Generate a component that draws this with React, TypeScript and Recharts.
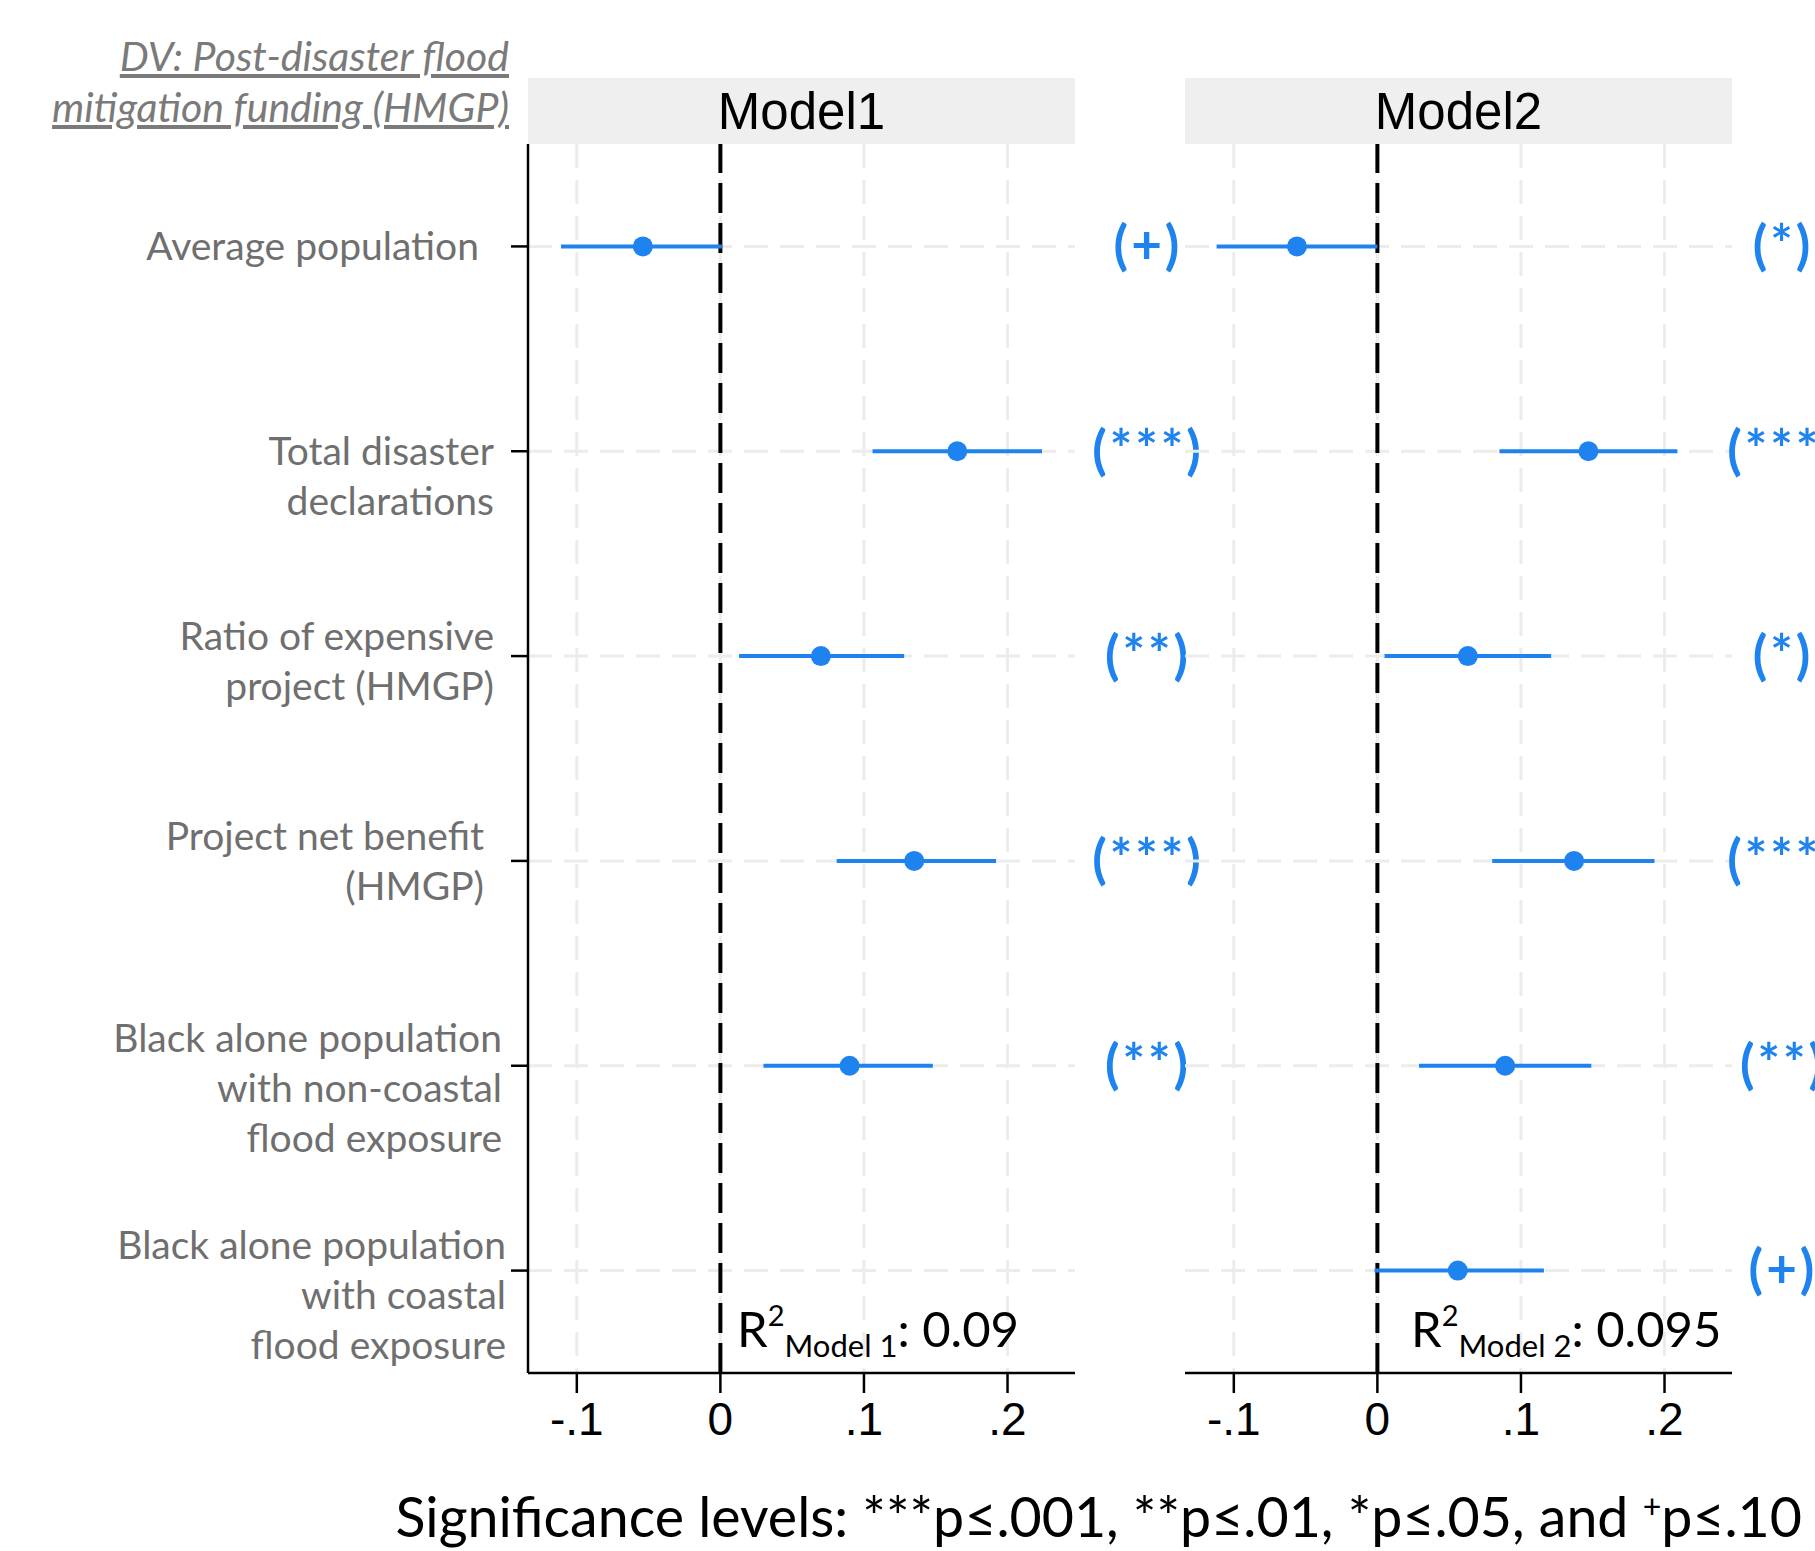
import React from 'react';
import { ScatterChart, Scatter, XAxis, YAxis, CartesianGrid, ReferenceLine, ErrorBar } from 'recharts';

// rows, top to bottom
const categories: string[][] = [
  ['Average population'],
  ['Total disaster', 'declarations'],
  ['Ratio of expensive', 'project (HMGP)'],
  ['Project net benefit', '(HMGP)'],
  ['Black alone population', 'with non-coastal', 'flood exposure'],
  ['Black alone population', 'with coastal', 'flood exposure'],
];
const rowIds = [1, 2, 3, 4, 5, 6];

const xTicks = [-0.1, 0, 0.1, 0.2];
const xTickLabels = ['-.1', '0', '.1', '.2'];

const panelNames = ['Model1', 'Model2'];
const r2Labels = ['Model 1', 'Model 2'];
const r2Values = ['0.09', '0.095'];

const model1Est = [-0.054, 0.165, 0.07, 0.135, 0.09, null];
const model1Lo = [-0.111, 0.106, 0.013, 0.081, 0.03, null];
const model1Hi = [0.001, 0.224, 0.128, 0.192, 0.148, null];
const model1Sig = ['(+)', '(***)', '(**)', '(***)', '(**)', ''];

const model2Est = [-0.056, 0.147, 0.063, 0.137, 0.089, 0.056];
const model2Lo = [-0.112, 0.085, 0.005, 0.08, 0.029, -0.002];
const model2Hi = [0.0, 0.209, 0.121, 0.193, 0.149, 0.116];
const model2Sig = ['(*)', '(***)', '(*)', '(***)', '(**)', '(+)'];

const BLUE = '#1e83ee';
const GRID = '#ececec';
const LABEL_GRAY = '#6f6f6f';
const FONT = 'Lato, "Open Sans", sans-serif';

// label layout tweaks per row: first line offset (in lines) and horizontal nudge (px)
const labelLift = [0, 0, -0.4, -0.5, -0.55, -0.5];
const labelNudge = [-15, 0, 0, -10, 8, 12];
const LINE_H = 50;
const AXIS_W = 10;
const TICK_SIZE = 17;
const TICK_MARGIN = 17;
const PLOT_W = 547;

const X_DOMAIN: [number, number] = [-0.134, 0.247];

const makeRowTick = (sig: string[], showLabels: boolean, sigOffset: number) => (props: any) => {
  const { x, y, payload } = props;
  const i = rowIds.indexOf(payload.value);
  const lines = showLabels ? categories[i] || [] : [];
  const lx = x + labelNudge[i];
  const sx = x + TICK_SIZE + TICK_MARGIN + PLOT_W + sigOffset;
  return (
    <g>
      <text x={lx} y={y} textAnchor="end" fill={LABEL_GRAY} fontSize={39} fontFamily={FONT}>
        {lines.map((l, k) => (
          <tspan key={k} x={lx} y={y + (labelLift[i] + k) * LINE_H} dy="0.35em">
            {l}
          </tspan>
        ))}
      </text>
      <text
        x={sx}
        y={y}
        dy="0.33em"
        textAnchor="middle"
        fill={BLUE}
        fontSize={53}
        fontWeight={700}
        fontFamily={FONT}
        letterSpacing={3}
      >
        {sig[i]}
      </text>
    </g>
  );
};

const XTick = (props: any) => {
  const { x, y, payload } = props;
  const i = xTicks.findIndex((t) => Math.abs(t - payload.value) < 1e-9);
  return (
    <text x={x} y={y} dy="0.75em" textAnchor="middle" fill="#000" fontSize={46} fontFamily='"Liberation Sans", Arial, sans-serif'>
      {xTickLabels[i]}
    </text>
  );
};

const Dot = (props: any) => <circle cx={props.cx} cy={props.cy} r={10} fill={BLUE} />;

interface PanelProps {
  index: number;
  est: (number | null)[];
  lo: (number | null)[];
  hi: (number | null)[];
  sig: string[];
  left: number;
  width: number;
  marginLeft: number;
  showYAxis: boolean;
  sigOffset: number;
  r2Left: number;
}

function Panel({ index, est, lo, hi, sig, left, width, marginLeft, showYAxis, sigOffset, r2Left }: PanelProps) {
  const data = rowIds
    .map((row, i) => {
      const e = est[i];
      if (e == null) return null;
      return { row, est: e, err: [e - (lo[i] as number), (hi[i] as number) - e] };
    })
    .filter(Boolean) as { row: number; est: number; err: number[] }[];

  const plotLeft = left + marginLeft + AXIS_W;
  const margin = { top: 144, left: marginLeft, right: width - marginLeft - AXIS_W - PLOT_W, bottom: 118 };

  return (
    <>
      <div
        style={{
          position: 'absolute',
          left: plotLeft,
          top: 78,
          width: PLOT_W,
          height: 66,
          background: '#efefef',
          display: 'flex',
          alignItems: 'center',
          justifyContent: 'center',
          fontFamily: '"Liberation Sans", Arial, sans-serif',
          fontSize: 51,
          color: '#000',
        }}
      >
        {panelNames[index]}
      </div>
      <div style={{ position: 'absolute', left, top: 0 }}>
        <ScatterChart width={width} height={1551} margin={margin}>
          <CartesianGrid yAxisId="rows" stroke={GRID} strokeWidth={3} strokeDasharray="24 12" syncWithTicks />
          <XAxis
            type="number"
            dataKey="est"
            domain={X_DOMAIN}
            ticks={xTicks}
            allowDataOverflow
            height={60}
            tick={<XTick />}
            tickSize={20}
            tickMargin={7}
            axisLine={{ stroke: '#000', strokeWidth: 2.5 }}
            tickLine={{ stroke: '#000', strokeWidth: 2.5 }}
          />
          <YAxis
            yAxisId="rows"
            type="number"
            dataKey="row"
            domain={[0.5, 6.5]}
            ticks={rowIds}
            reversed
            width={AXIS_W}
            tick={makeRowTick(sig, showYAxis, sigOffset)}
            tickSize={TICK_SIZE}
            tickMargin={TICK_MARGIN}
            axisLine={showYAxis ? { stroke: '#000', strokeWidth: 2.5 } : false}
            tickLine={showYAxis ? { stroke: '#000', strokeWidth: 2.5 } : false}
          />
          <ReferenceLine yAxisId="rows" x={0} stroke="#000" strokeWidth={4} strokeDasharray="30 10" />
          <Scatter yAxisId="rows" data={data} shape={<Dot />} isAnimationActive={false}>
            <ErrorBar dataKey="err" direction="x" width={0} stroke={BLUE} strokeWidth={4} isAnimationActive={false} />
          </Scatter>
        </ScatterChart>
      </div>
      <div
        style={{
          position: 'absolute',
          left: r2Left,
          top: 1300,
          fontFamily: FONT,
          fontSize: 49,
          lineHeight: 1,
          color: '#000',
          whiteSpace: 'nowrap',
        }}
      >
        R<sup style={{ fontSize: 29, lineHeight: 1, verticalAlign: 21 }}>2</sup>
        <sub style={{ fontSize: 31, lineHeight: 1, verticalAlign: -10 }}>{r2Labels[index]}</sub>: {r2Values[index]}
      </div>
    </>
  );
}

export default function App() {
  return (
    <div
      style={{
        position: 'absolute',
        left: 0,
        top: 0,
        width: 1815,
        height: 1551,
        background: '#fff',
        overflow: 'hidden',
        fontFamily: FONT,
      }}
    >
      <div
        style={{
          position: 'absolute',
          right: 1815 - 509,
          top: 30,
          textAlign: 'right',
          fontStyle: 'italic',
          textDecoration: 'underline',
          color: '#7a7a7a',
          fontSize: 41,
          lineHeight: '51px',
          whiteSpace: 'nowrap',
        }}
      >
        DV: Post-disaster flood
        <br />
        mitigation funding (HMGP)
      </div>

      <Panel
        index={0}
        est={model1Est}
        lo={model1Lo}
        hi={model1Hi}
        sig={model1Sig}
        left={0}
        width={1280}
        marginLeft={518}
        showYAxis
        sigOffset={73}
        r2Left={737}
      />
      <Panel
        index={1}
        est={model2Est}
        lo={model2Lo}
        hi={model2Hi}
        sig={model2Sig}
        left={1130}
        width={685}
        marginLeft={45}
        showYAxis={false}
        sigOffset={51}
        r2Left={1411}
      />

      <div
        style={{
          position: 'absolute',
          right: 13,
          top: 1484,
          fontSize: 55.5,
          lineHeight: '64px',
          color: '#000',
          whiteSpace: 'nowrap',
        }}
      >
        Significance levels: ***p≤.001, **p≤.01, *p≤.05, and <sup style={{ fontSize: 32, lineHeight: 1 }}>+</sup>p≤.10
      </div>
    </div>
  );
}
